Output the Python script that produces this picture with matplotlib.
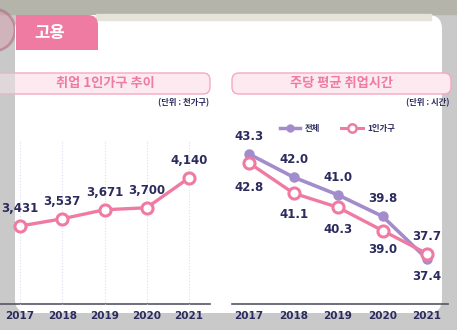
import matplotlib
matplotlib.use("Agg")
import matplotlib.pyplot as plt
from matplotlib.patches import FancyBboxPatch, Rectangle, Circle

plt.rcParams['font.family'] = ['Noto Sans CJK KR', 'DejaVu Sans']

years = [2017, 2018, 2019, 2020, 2021]
year_labels = ['2017', '2018', '2019', '2020', '2021']
households = [3431, 3537, 3671, 3700, 4140]
hours_all = [43.3, 42.0, 41.0, 39.8, 37.4]
hours_single = [42.8, 41.1, 40.3, 39.0, 37.7]

PINK = '#f07ba2'
PURPLE = '#a38ccb'
NAVY = '#2b2b5e'
GRAY = '#c9c9c9'
NUM_FONT = ['Liberation Sans Narrow', 'DejaVu Sans']

W, H = 457, 330
fig = plt.figure(figsize=(W / 100, H / 100), dpi=100)
fig.patch.set_facecolor(GRAY)

# background layer in pixel coordinates
bg = fig.add_axes([0, 0, 1, 1])
bg.set_xlim(0, W)
bg.set_ylim(H, 0)
bg.axis('off')

bg.add_patch(Rectangle((0, 0), W, 14, color='#b4b4aa', zorder=0))
bg.add_patch(FancyBboxPatch((15, 15), 427, 298, boxstyle='round,pad=0,rounding_size=14',
                            fc='white', ec='none', zorder=1))
bg.add_patch(Rectangle((96, 14), 335, 6, color='#e4e4d8', zorder=1.5))
bg.add_patch(Circle((-6, 30), 21, fc='#d7a0b0', ec='#b06078', lw=2, alpha=0.5, zorder=0.5))

# tab
bg.add_patch(FancyBboxPatch((16, 15), 82, 35, boxstyle='round,pad=0,rounding_size=10',
                            fc=PINK, ec='none', zorder=2))
bg.add_patch(Rectangle((16, 15), 20, 35, fc=PINK, ec='none', zorder=2))
bg.add_patch(Rectangle((16, 36), 82, 14, fc=PINK, ec='none', zorder=2))
bg.text(50, 33, '고용', color='white', fontsize=12, fontweight='bold',
        ha='center', va='center', zorder=3)

# section titles
for x0, x1, title, unit in [(-6, 210, '취업 1인가구 추이', '(단위 : 천가구)'),
                            (232, 451, '주당 평균 취업시간', '(단위 : 시간)')]:
    bg.add_patch(FancyBboxPatch((x0, 73), x1 - x0, 21, boxstyle='round,pad=0,rounding_size=7',
                                fc='#fde9f0', ec='#f6a8c4', lw=1.0, zorder=2))
    bg.text((max(x0, 0) + x1) / 2, 83.5, title, color=PINK, fontsize=9.5, fontweight='bold',
            ha='center', va='center', zorder=3)
    bg.text(x1 - 1, 103, unit, color=NAVY, fontsize=6, fontweight='bold',
            ha='right', va='center', zorder=3)
# dimmed part of the left title box outside the panel
bg.add_patch(Rectangle((0, 70), 15, 27, fc=GRAY, ec='none', alpha=0.55, zorder=2.5))

# baselines
bg.plot([0, 210], [304, 304], color='#555566', lw=1.2, zorder=3)
bg.plot([232, 448], [304, 304], color='#555566', lw=1.2, zorder=3)

# legend
bg.plot([280, 300], [128, 128], color=PURPLE, lw=2.5, zorder=3)
bg.plot([290], [128], 'o', color=PURPLE, ms=5, zorder=4)
bg.text(305, 128, '전체', color=NAVY, fontsize=6, fontweight='bold', va='center', zorder=3)
bg.plot([341, 363], [128, 128], color=PINK, lw=2.2, zorder=3)
bg.plot([352], [128], 'o', mfc='white', mec=PINK, mew=1.8, ms=6, zorder=4)
bg.text(367, 128, '1인가구', color=NAVY, fontsize=6, fontweight='bold', va='center', zorder=3)


def px_axes(x0, x1, y0, y1):
    return fig.add_axes([x0 / W, 1 - y1 / H, (x1 - x0) / W, (y1 - y0) / H])


# left chart
ax1 = px_axes(-1, 210, 140, 305)
ax1.set_xlim(2016.5, 2021.5)
ax1.set_ylim(2264, 4701)
ax1.patch.set_alpha(0)
for yr in years:
    ax1.axvline(yr, color='#dcdcf2', lw=0.8, ls=':', zorder=1)
ax1.plot(years, households, color=PINK, lw=2.4, marker='o', ms=8,
         mfc='white', mec=PINK, mew=2.2, zorder=3, clip_on=False)
for yr, v in zip(years, households):
    ax1.annotate(f'{v:,}', (yr, v), xytext=(0, 8), textcoords='offset points',
                 ha='center', va='bottom', color=NAVY, fontsize=8.5,
                 family=NUM_FONT, fontweight='bold')

# right chart
ax2 = px_axes(226.75, 449.25, 140, 305)
ax2.set_xlim(2016.5, 2021.5)
ax2.set_ylim(34.816, 44.087)
ax2.patch.set_alpha(0)
ax2.plot(years, hours_all, color=PURPLE, lw=2.6, marker='o', ms=6.5,
         zorder=3, clip_on=False)
ax2.plot(years, hours_single, color=PINK, lw=2.4, marker='o', ms=8,
         mfc='white', mec=PINK, mew=2.2, zorder=4, clip_on=False)
all_off = [8, 8, 8, 8, -8]
single_off = [-13, -11, -11, -9, 8]
for yr, v, o in zip(years, hours_all, all_off):
    ax2.annotate(f'{v:.1f}', (yr, v), xytext=(0, o), textcoords='offset points',
                 ha='center', va='bottom' if o > 0 else 'top', color=NAVY,
                 fontsize=8.5, family=NUM_FONT, fontweight='bold')
for yr, v, o in zip(years, hours_single, single_off):
    ax2.annotate(f'{v:.1f}', (yr, v), xytext=(0, o), textcoords='offset points',
                 ha='center', va='bottom' if o > 0 else 'top', color=NAVY,
                 fontsize=8.5, family=NUM_FONT, fontweight='bold')

for ax in (ax1, ax2):
    for s in ax.spines.values():
        s.set_visible(False)
    ax.set_yticks([])
    ax.set_xticks(years)
    ax.set_xticklabels(year_labels, family=NUM_FONT, fontweight='bold',
                       fontsize=7.5, color=NAVY)
    ax.tick_params(axis='x', length=0, pad=4)

fig.savefig('out.png', dpi=100, facecolor=fig.get_facecolor())
